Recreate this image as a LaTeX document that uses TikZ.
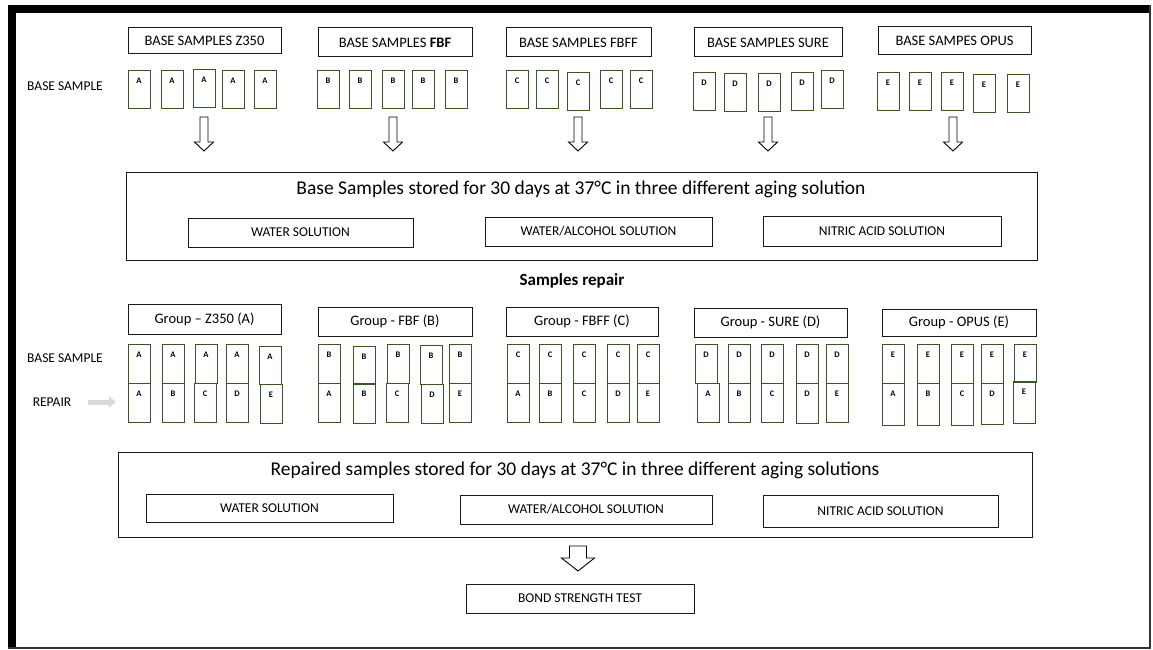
\documentclass[tikz,border=0pt]{standalone}
\usepackage{fontspec}
\setmainfont{Carlito}
\usetikzlibrary{arrows.meta}
\definecolor{sgreen}{RGB}{56,87,35}
\newcommand\fs[1]{\fontsize{#1}{#1}\selectfont}
% rectangle node from corners
\newcommand\rbox[7]{\node[#6, minimum width={(#4-#2)*1pt}, minimum height={(#5-#3)*1pt}] (#1) at ({(#2+#4)/2},{(#3+#5)/2}) {#7};}
% sample box with letter
\newcommand\samp[5][38]{\node[sbox, minimum height=#1pt, anchor=north west] (#2) at (#3,#4) {};
  \node[slab] (#2t) at ({#3+11},{#4+11}) {#5};}
\newcommand\hollowdown[6]{\draw[harrow] ({#1-#5},#2) -- ({#1+#5},#2) -- ({#1+#5},#3) -- ({#1+#6},#3) -- (#1,#4) -- ({#1-#6},#3) -- ({#1-#5},#3) -- cycle;}
\begin{document}
\begin{tikzpicture}[x=1pt,y=-1pt,
  box/.style={draw=black!90, line width=1pt, inner sep=0pt},
  hdr/.style={box, font=\fs{14.5}},
  sub/.style={box, font=\fs{13.5}},
  big/.style={box},
  sbox/.style={draw=sgreen, line width=1pt, minimum width=22pt, inner sep=0pt},
  slab/.style={font=\fs{8.5}\bfseries, inner sep=0pt},
  lbl/.style={font=\fs{13.5}, inner sep=0pt},
  title/.style={font=\fs{19.5}, inner sep=0pt},
  harrow/.style={draw=black, line width=0.9pt, fill=white, line join=miter},
]
\useasboundingbox (0,0) rectangle (1153,650);
% frame
\fill[black] (8,5) rectangle (1151,13);
\fill[black] (8,5) rectangle (16,648);
\draw[black!80, line width=2pt] (1150,5) -- (1150,648) -- (8,648);

% row 1 headers
\rbox{h1}{128}{28}{281}{54}{hdr}{BASE SAMPLES Z350}
\rbox{h2}{318}{28}{472}{57}{hdr}{BASE SAMPLES \textbf{FBF}}
\rbox{h3}{506}{28}{651}{57}{hdr}{BASE SAMPLES FBFF}
\rbox{h4}{694}{28}{842}{57}{hdr}{BASE SAMPLES SURE}
\rbox{h5}{878}{27}{1031}{55}{hdr}{BASE SAMPES OPUS}
\node[lbl] (bs1) at (65,86) {BASE SAMPLE};

% row 1 samples
\samp{a1}{128}{70}{A}\samp{a2}{161}{70}{A}\samp{a3}{193}{69}{A}\samp{a4}{222}{70}{A}\samp{a5}{254}{70}{A}
\samp{b1}{317}{70}{B}\samp{b2}{349}{70}{B}\samp{b3}{382}{70}{B}\samp{b4}{412}{70}{B}\samp{b5}{445}{70}{B}
\samp{c1}{506}{70}{C}\samp{c2}{536}{70}{C}\samp{c3}{567}{72}{C}\samp{c4}{600}{70}{C}\samp{c5}{630}{70}{C}
\samp{d1}{693}{72}{D}\samp{d2}{724}{73}{D}\samp{d3}{758}{73}{D}\samp{d4}{791}{72}{D}\samp{d5}{821}{70}{D}
\samp{e1}{877}{72}{E}\samp{e2}{909}{72}{E}\samp{e3}{941}{72}{E}\samp{e4}{973}{74}{E}\samp{e5}{1007}{74}{E}

% arrows down
\hollowdown{204}{117}{142}{151}{4}{9.5}
\hollowdown{393}{117}{142}{151}{4}{9.5}
\hollowdown{578}{117}{142}{151}{4}{9.5}
\hollowdown{768}{117}{142}{151}{4}{9.5}
\hollowdown{953}{117}{142}{151}{4}{9.5}

% box 1
\rbox{B1}{126}{172}{1037}{260}{big}{}
\node[title] (t1) at (581,189) {Base Samples stored for 30 days at 37°C in three different aging solution};
\rbox{w1}{188}{218}{413}{247}{sub}{WATER SOLUTION}
\rbox{wa1}{485}{217}{712}{246}{sub}{WATER/ALCOHOL SOLUTION}
\rbox{n1}{763}{216}{1001}{246}{sub}{NITRIC ACID SOLUTION}

\node[font=\fs{17}\bfseries, inner sep=0pt] (rep) at (572,281) {Samples repair};

% row 2 headers
\rbox{g1}{128}{304}{281}{334}{hdr}{Group – Z350 (A)}
\rbox{g2}{318}{307}{472}{336}{hdr}{Group - FBF (B)}
\rbox{g3}{506}{307}{658}{336}{hdr}{Group - FBFF (C)}
\rbox{g4}{694}{308}{847}{337}{hdr}{Group - SURE (D)}
\rbox{g5}{882}{309}{1036}{336}{hdr}{Group - OPUS (E)}
\node[lbl] (bs2) at (65,358) {BASE SAMPLE};
\node[lbl] (rp) at (52,402) {REPAIR};
\coordinate (ras) at (88,402);
\coordinate (rae) at (116,402);
\draw[black!15, line width=5pt, -{Triangle[length=7pt,width=11pt]}] (ras) -- (rae);

% row 2 samples: top and bottom parts
\samp[39]{ta1}{128}{344}{A}\samp[39]{ba1}{128}{383}{A}
\samp[39]{ta2}{162}{344}{A}\samp[39]{ba2}{162}{383}{B}
\samp[39]{ta3}{195}{344}{A}\samp[39]{ba3}{194}{383}{C}
\samp[39]{ta4}{226}{344}{A}\samp[39]{ba4}{226}{383}{D}
\samp[38]{ta5}{259}{346}{A}\samp[39]{ba5}{260}{384}{E}

\samp[39]{tb1}{318}{344}{B}\samp[39]{bb1}{318}{383}{A}
\samp[38]{tb2}{353}{346}{B}\samp[40]{bb2}{353}{383}{B}
\samp[39]{tb3}{387}{344}{B}\samp[39]{bb3}{386}{383}{C}
\samp[39]{tb4}{420}{345}{B}\samp[39]{bb4}{421}{384}{D}
\samp[39]{tb5}{449}{344}{B}\samp[39]{bb5}{449}{383}{E}

\samp[39]{tc1}{507}{344}{C}\samp[39]{bc1}{507}{383}{A}
\samp[39]{tc2}{539}{344}{C}\samp[39]{bc2}{539}{383}{B}
\samp[39]{tc3}{573}{344}{C}\samp[39]{bc3}{573}{383}{C}
\samp[39]{tc4}{607}{344}{C}\samp[39]{bc4}{607}{383}{D}
\samp[39]{tc5}{637}{344}{C}\samp[39]{bc5}{637}{383}{E}

\samp[39]{td1}{695}{344}{D}\samp[39]{bd1}{697}{383}{A}
\samp[39]{td2}{728}{344}{D}\samp[39]{bd2}{728}{383}{B}
\samp[39]{td3}{761}{344}{D}\samp[39]{bd3}{761}{383}{C}
\samp[39]{td4}{796}{344}{D}\samp[40]{bd4}{796}{383}{D}
\samp[39]{td5}{826}{344}{D}\samp[39]{bd5}{826}{383}{E}

\samp[39]{te1}{882}{344}{E}\samp[42]{be1}{882}{383}{A}
\samp[39]{te2}{917}{344}{E}\samp[42]{be2}{917}{383}{B}
\samp[39]{te3}{951}{344}{E}\samp[42]{be3}{951}{383}{C}
\samp[39]{te4}{981}{344}{E}\samp[41]{be4}{981}{383}{D}
\samp[38]{te5}{1014}{344}{E}\samp[42]{be5}{1013}{381}{E}

% box 2
\rbox{B2}{118}{452}{1032}{537}{big}{}
\node[title] (t2) at (575,470) {Repaired samples stored for 30 days at 37°C in three different aging solutions};
\rbox{w2}{146}{494}{393}{522}{sub}{WATER SOLUTION}
\rbox{wa2}{460}{495}{712}{524}{sub}{WATER/ALCOHOL SOLUTION}
\rbox{n2}{763}{495}{998}{527}{sub}{NITRIC ACID SOLUTION}

\hollowdown{578}{546}{558}{571}{8.5}{16.5}
\rbox{bond}{466}{584}{694}{613}{sub}{BOND STRENGTH TEST}
\end{tikzpicture}
\end{document}
